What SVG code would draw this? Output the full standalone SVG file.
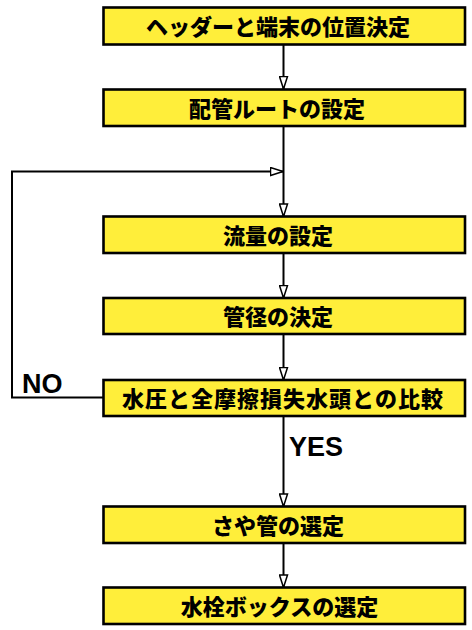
<svg xmlns="http://www.w3.org/2000/svg" width="472" height="630" viewBox="0 0 472 630">
<defs>
<style>
.box{fill:#FFEE3A;stroke:#000;stroke-width:2.6}
.lbl{font-family:"Noto Sans CJK JP","Noto Sans CJK SC",sans-serif;font-weight:900;font-size:22px;fill:#000;text-anchor:middle}
.yn{font-family:"Liberation Sans",Arial,sans-serif;font-weight:bold;font-size:27px;fill:#000}
.ln{fill:none;stroke:#000;stroke-width:2}
</style>
<marker id="ah" markerUnits="userSpaceOnUse" markerWidth="14" markerHeight="10" refX="12.5" refY="4" orient="auto" viewBox="-1 -1 14 10">
<path d="M0,0 L12.5,4 L0,8 Z" fill="#fff" stroke="#000" stroke-width="1.5"/>
</marker>
</defs>
<rect width="472" height="630" fill="#fff"/>
<g id="connectors">
<path class="ln" d="M283.5,45 V89" marker-end="url(#ah)"/>
<path class="ln" d="M283.5,126 V216.5" marker-end="url(#ah)"/>
<path class="ln" d="M103,397.5 H12 V171.5 H283" marker-end="url(#ah)"/>
<path class="ln" d="M283.5,253 V298" marker-end="url(#ah)"/>
<path class="ln" d="M283.5,334 V380" marker-end="url(#ah)"/>
<path class="ln" d="M283.5,416 V506.5" marker-end="url(#ah)"/>
<path class="ln" d="M283.5,543 V587.5" marker-end="url(#ah)"/>
<text class="yn" x="22" y="393">NO</text>
<text class="yn" x="289" y="456">YES</text>
</g>
<g id="n1"><rect class="box" x="103.5" y="7.5" width="361.5" height="37"/><text class="lbl" x="278" y="34.5">ヘッダーと端末の位置決定</text></g>
<g id="n2"><rect class="box" x="103.5" y="89.5" width="361.5" height="36.5"/><text class="lbl" x="277" y="116.5">配管ルートの設定</text></g>
<g id="n3"><rect class="box" x="103.5" y="216.5" width="361.5" height="36.5"/><text class="lbl" x="278" y="243.5">流量の設定</text></g>
<g id="n4"><rect class="box" x="103.5" y="298" width="361.5" height="36"/><text class="lbl" x="278" y="325">管径の決定</text></g>
<g id="n5"><rect class="box" x="103.5" y="380" width="361.5" height="36"/><text class="lbl" x="283" y="407" letter-spacing="1">水圧と全摩擦損失水頭との比較</text></g>
<g id="n6"><rect class="box" x="103.5" y="506.5" width="361.5" height="36.5"/><text class="lbl" x="278" y="533.5">さや管の選定</text></g>
<g id="n7"><rect class="box" x="103.5" y="587.5" width="361.5" height="36.5"/><text class="lbl" x="279.5" y="614.5">水栓ボックスの選定</text></g>
</svg>
